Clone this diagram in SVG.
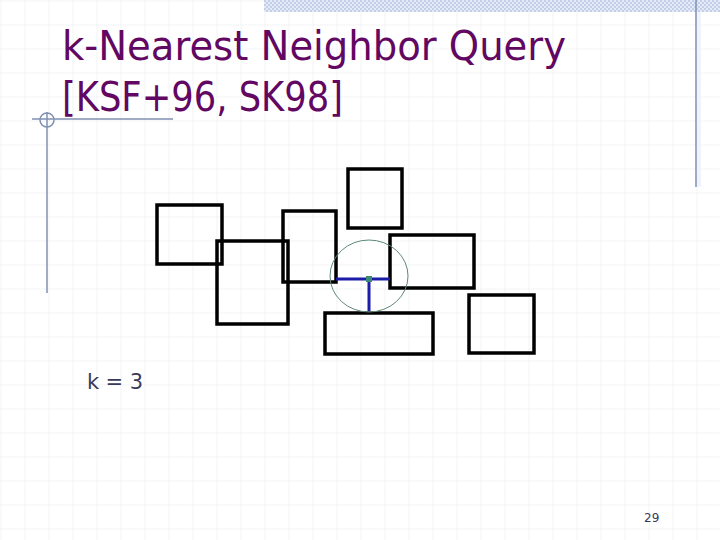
<svg xmlns="http://www.w3.org/2000/svg" width="720" height="540" viewBox="0 0 720 540">
<defs>
<pattern id="grid" x="0.5" y="0.5" width="24" height="24" patternUnits="userSpaceOnUse">
<line x1="0" y1="0" x2="24" y2="0" stroke="#c2c8d2" stroke-width="1" stroke-dasharray="1,1.4"/>
<line x1="0" y1="0" x2="0" y2="24" stroke="#c2c8d2" stroke-width="1" stroke-dasharray="1,1.4"/>
</pattern>
<pattern id="check" x="0" y="0" width="4" height="4" patternUnits="userSpaceOnUse">
<rect width="4" height="4" fill="#e4eaf6"/>
<rect width="2" height="2" fill="#c3cfe8"/>
<rect x="2" y="2" width="2" height="2" fill="#c3cfe8"/>
</pattern>
<style>
.box{fill:none;stroke:#000;stroke-width:3.5}
.deco{stroke:#8190b3;stroke-width:1.5;fill:none}
.title{font-family:"DejaVu Sans",Tahoma,sans-serif;fill:#620762}
.label{font-family:"DejaVu Sans",Tahoma,sans-serif;fill:#3a3a58}
.seg{stroke:#1c1ca8;stroke-width:3;fill:none}
</style>
</defs>
<rect width="720" height="540" fill="#ffffff"/>
<rect width="720" height="540" fill="url(#grid)"/>
<g id="decoration">
<rect x="264" y="0" width="456" height="12" fill="url(#check)"/>
<rect x="697" y="12" width="4" height="175" fill="#eef3fc"/>
<line class="deco" x1="696" y1="0" x2="696" y2="187"/>
<line class="deco" x1="32" y1="119" x2="173" y2="119"/>
<line class="deco" x1="47" y1="112" x2="47" y2="293"/>
<circle class="deco" cx="47" cy="120" r="7" stroke-width="1"/>
</g>
<g id="title">
<text class="title" x="62" y="60" font-size="41" textLength="504" lengthAdjust="spacingAndGlyphs">k-Nearest Neighbor Query</text>
<text class="title" x="62" y="111" font-size="40" textLength="281" lengthAdjust="spacingAndGlyphs">[KSF+96, SK98]</text>
</g>
<g id="rect1"><rect class="box" x="157" y="205" width="65" height="59"/></g>
<g id="rect2"><rect class="box" x="217" y="241" width="71" height="83"/></g>
<g id="rect3"><rect class="box" x="283" y="211" width="53" height="71"/></g>
<g id="rect4"><rect class="box" x="348" y="169" width="54" height="59"/></g>
<g id="rect5"><rect class="box" x="390" y="235" width="84" height="53"/></g>
<g id="rect6"><rect class="box" x="325" y="313" width="108" height="41"/></g>
<g id="rect7"><rect class="box" x="469" y="295" width="65" height="58"/></g>
<g id="connectors">
<ellipse cx="369" cy="276" rx="39" ry="36" fill="none" stroke="#5e8a7c" stroke-width="1"/>
<line class="seg" x1="336" y1="279" x2="390" y2="279"/>
<line class="seg" x1="369" y1="279" x2="369" y2="311"/>
</g>
<g id="query">
<rect x="366" y="276" width="6" height="6" fill="#3c8a74"/>
</g>
<g id="labels">
<text class="label" x="87" y="389" font-size="21" textLength="56" lengthAdjust="spacing">k = 3</text>
<text class="label" x="644" y="522" font-size="12">29</text>
</g>
</svg>
